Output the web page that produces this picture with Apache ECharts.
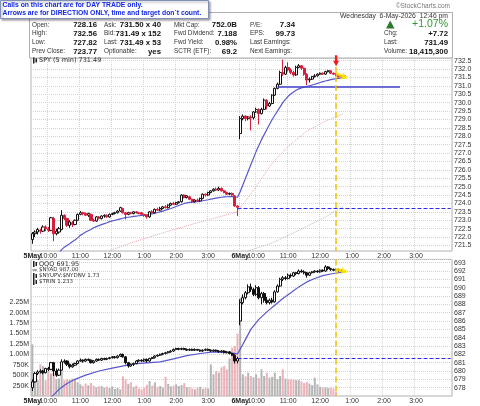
<!DOCTYPE html>
<html>
<head>
<meta charset="utf-8">
<script src="https://cdn.jsdelivr.net/npm/echarts@6/dist/echarts.min.js"></script>
<style>
html, body { margin: 0; padding: 0; background: #fff; }
#chart { width: 480px; height: 406px; }
</style>
</head>
<body>
<div id="chart"></div>
<script>
// x axis: 5 minute slots, two sessions of 78 bars
const slotCount = 158;
const daySlots = [0, 78];
const dayTexts = ['5May', '6May'];
const hourSlots = [6, 18, 30, 42, 54, 66, 84, 96, 108, 120, 132, 144];
const hourTexts = ['10:00', '11:00', '12:00', '1:00', '2:00', '3:00', '10:00', '11:00', '12:00', '1:00', '2:00', '3:00'];

// SPY 5 min candles [open, close, low, high]
const spyDay1 = [
  [721.85,722.2,721.6,722.3],[722.2,722.3,722.0,722.4],[722.3,722.45,722.15,722.55],[722.4,722.35,722.2,722.5],
  [722.35,722.6,722.3,722.7],[722.6,722.5,722.35,722.7],[722.5,722.4,722.3,722.6],[722.4,723.15,722.35,723.2],
  [723.1,722.2,721.75,723.2],[722.2,722.35,722.1,722.5],[722.3,722.5,722.2,722.6],[722.45,723.3,722.4,723.6],
  [723.3,723.1,723.0,723.35],[723.1,722.7,722.6,723.15],[722.7,722.9,722.55,723.0],[722.85,722.75,722.6,722.95],
  [722.75,723.0,722.7,723.05],[723.0,723.35,722.95,723.4],[723.35,723.45,723.3,723.55],[723.45,723.4,723.3,723.5],
  [723.4,723.3,723.25,723.45],[723.3,723.4,723.2,723.45],[723.35,723.0,722.95,723.4],[723.0,722.95,722.9,723.1],
  [722.95,723.2,722.9,723.25],[723.2,723.1,723.05,723.25],[723.1,723.25,723.05,723.3],[723.25,723.3,723.15,723.35],
  [723.3,723.2,723.15,723.35],[723.2,723.35,723.15,723.4],[723.35,723.4,723.3,723.45],[723.4,723.45,723.35,723.5],
  [723.45,723.55,723.4,723.6],[723.55,723.75,723.5,723.8],[723.7,723.45,723.4,723.75],[723.45,723.35,723.05,723.5],
  [723.35,723.45,723.3,723.5],[723.45,723.4,723.35,723.5],[723.4,723.5,723.35,723.55],[723.5,723.45,723.4,723.55],
  [723.45,723.4,723.35,723.5],[723.45,723.35,723.3,723.5],[723.35,723.3,723.2,723.4],[723.3,723.2,723.1,723.35],
  [723.2,723.5,723.15,723.55],[723.5,723.45,723.4,723.6],[723.45,723.65,723.4,723.7],[723.65,723.6,723.55,723.75],
  [723.6,723.7,723.55,723.8],[723.7,723.8,723.65,723.85],[723.8,723.75,723.7,723.9],[723.75,723.9,723.7,723.95],
  [723.9,724.0,723.85,724.05],[724.0,723.95,723.9,724.1],[723.95,724.05,723.9,724.1],[724.05,724.1,724.0,724.15],
  [724.1,724.5,724.05,724.55],[724.5,724.35,724.3,724.55],[724.35,724.45,724.3,724.5],[724.4,724.25,724.2,724.45],
  [724.25,724.1,724.05,724.3],[724.1,724.2,724.05,724.25],[724.2,724.15,724.1,724.3],[724.15,724.3,724.1,724.35],
  [724.3,724.55,724.25,724.6],[724.55,724.5,724.4,724.6],[724.5,724.65,724.45,724.7],[724.65,724.75,724.6,724.8],
  [724.75,724.85,724.7,724.9],[724.85,724.8,724.75,724.95],[724.8,724.9,724.75,725.0],[724.9,724.75,724.7,724.95],
  [724.75,724.65,724.6,724.8],[724.65,724.55,724.5,724.7],[724.55,724.6,724.5,724.65],[724.6,724.5,724.45,724.65],
  [724.45,723.85,723.8,724.5],[723.85,723.77,723.25,723.9]
];
const spyDay2 = [
  [728.16,729.05,727.82,729.2],[729.05,729.2,728.95,729.3],[729.2,729.05,728.9,729.25],[729.05,729.15,728.95,729.2],
  [729.15,729.1,728.35,729.25],[729.1,729.45,729.0,729.5],[729.45,729.6,729.4,729.7],[729.6,729.35,728.7,729.65],
  [729.35,729.6,729.3,729.7],[729.6,730.15,729.55,730.25],[730.15,729.8,729.6,730.2],[729.8,729.95,729.75,730.05],
  [729.95,730.45,729.9,730.5],[730.45,730.85,730.4,730.9],[730.85,731.1,730.8,731.2],[731.1,731.8,731.05,731.9],
  [731.8,731.7,731.6,732.56],[731.7,732.1,731.65,732.2],[732.1,731.95,731.85,732.4],[731.95,731.8,731.7,732.05],
  [731.8,731.65,731.55,731.9],[731.65,732.1,731.6,732.2],[732.1,732.2,732.05,732.3],[732.2,732.05,731.95,732.25],
  [732.05,731.7,731.6,732.1],[731.7,731.35,731.05,731.75],[731.35,731.4,731.2,731.5],[731.4,731.55,731.35,731.6],
  [731.55,731.6,731.5,731.7],[731.6,731.7,731.55,731.75],[731.7,731.75,731.65,731.8],[731.75,731.7,731.65,731.8],
  [731.7,731.85,731.65,731.9],[731.85,731.9,731.8,731.95],[731.9,731.75,731.7,731.95],[731.75,731.7,731.65,731.8],
  [731.7,731.65,731.6,731.75],[731.65,731.55,731.5,731.7],[731.55,731.6,731.45,731.65],[731.6,731.49,731.45,731.65]
];
// SPY moving averages
const spyMaStart = 10;
const spyMa = [
  721.05,721.25,721.4,721.5,721.6,721.72,721.82,721.95,722.1,722.2,
  722.3,722.38,722.45,722.55,722.62,722.68,722.74,722.8,722.85,722.92,
  722.96,723.0,723.04,723.08,723.12,723.16,723.18,723.2,723.23,723.25,
  723.27,723.29,723.31,723.32,723.35,723.38,723.42,723.46,723.5,723.54,
  723.6,723.65,723.7,723.76,723.82,723.88,723.94,724.0,724.03,724.06,
  724.08,724.1,724.11,724.13,724.16,724.19,724.22,724.26,724.29,724.32,
  724.35,724.37,724.39,724.4,724.41,724.41,724.4,724.37,
  724.7,725.1,725.5,725.9,726.3,726.7,727.1,727.45,727.8,728.1,
  728.4,728.7,729.0,729.25,729.5,729.75,730.0,730.2,730.38,730.52,
  730.64,730.74,730.82,730.88,730.93,730.97,731.01,731.05,731.1,731.15,
  731.2,731.25,731.29,731.33,731.37,731.4,731.43,731.45,731.47,731.49
];
const spyMaSlowPts = [[29,721.2],[38,721.7],[50,722.3],[63,722.9],[77,723.5],[84,725.0],[90,726.4],[96,727.4],[103,728.3],[110,728.9],[117,729.35]];
const spyMaLongPts = [[81,721.17],[90,721.65],[100,722.4],[110,723.2],[117,723.85]];
const spyPrevClose = 723.71;
const spySupport = 730.95;
const signalSlot = 114;

// QQQ 5 min candles [open, close, low, high]
const qqqDay1 = [
  [678.0,678.7,677.6,679.0],[678.7,679.7,678.6,679.9],[679.7,679.9,679.5,680.1],[679.9,680.0,679.7,680.2],
  [680.0,679.8,679.6,680.1],[679.8,680.3,679.7,680.4],[680.3,680.2,680.0,680.5],[680.2,681.0,680.1,681.1],
  [681.0,680.0,679.4,681.1],[680.0,679.5,679.3,680.3],[679.5,680.1,679.4,680.3],[680.1,681.1,680.0,681.4],
  [681.1,681.2,680.9,681.4],[681.2,680.8,680.6,681.3],[680.8,680.5,680.3,680.9],[680.5,680.7,680.4,680.9],
  [680.7,680.9,680.6,681.0],[680.9,681.2,680.8,681.3],[681.2,681.3,681.1,681.5],[681.3,681.2,681.0,681.4],
  [681.2,681.4,681.1,681.5],[681.4,681.3,681.2,681.5],[681.3,681.0,680.9,681.4],[681.0,681.2,680.9,681.3],
  [681.2,681.4,681.1,681.5],[681.4,681.3,681.2,681.5],[681.3,681.5,681.2,681.6],[681.5,681.4,681.3,681.6],
  [681.4,681.5,681.3,681.6],[681.5,681.6,681.4,681.7],[681.6,681.7,681.5,681.8],[681.7,681.6,681.5,681.8],
  [681.6,681.8,681.5,681.9],[681.8,682.0,681.7,682.1],[682.0,681.7,681.6,682.1],[681.7,681.0,680.8,681.8],
  [681.0,680.6,680.4,681.1],[680.6,680.8,680.5,680.9],[680.8,680.9,680.6,681.0],[680.9,681.2,680.8,681.3],
  [681.2,681.3,681.1,681.4],[681.3,681.2,681.1,681.4],[681.2,681.4,681.1,681.5],[681.4,681.2,681.0,681.5],
  [681.2,681.5,681.1,681.6],[681.5,681.6,681.4,681.7],[681.6,681.8,681.5,681.9],[681.8,681.9,681.7,682.0],
  [681.9,682.0,681.8,682.1],[682.0,682.1,681.9,682.2],[682.1,682.2,682.0,682.3],[682.2,682.3,682.1,682.4],
  [682.3,682.4,682.2,682.5],[682.4,682.6,682.3,682.7],[682.6,682.7,682.5,682.8],[682.7,682.6,682.5,682.8],
  [682.6,682.7,682.5,682.8],[682.7,682.6,682.5,682.8],[682.6,682.5,682.4,682.7],[682.5,682.6,682.4,682.7],
  [682.6,682.5,682.4,682.7],[682.5,682.6,682.4,682.7],[682.6,682.5,682.4,682.6],[682.5,682.4,682.3,682.6],
  [682.4,682.5,682.3,682.6],[682.5,682.6,682.4,682.7],[682.6,682.5,682.4,682.7],[682.5,682.4,682.3,682.6],
  [682.4,682.5,682.3,682.6],[682.5,682.4,682.3,682.6],[682.4,682.3,682.2,682.5],[682.3,682.4,682.2,682.5],
  [682.4,682.2,682.1,682.5],[682.2,682.3,682.1,682.4],[682.3,682.1,682.0,682.4],[682.1,681.9,681.8,682.2],
  [681.9,681.2,680.9,682.0],[681.2,681.5,680.9,681.7]
];
const qqqDay2 = [
  [686.0,688.2,685.5,688.6],[688.2,688.8,688.0,689.2],[688.8,689.4,688.6,689.6],[689.4,690.1,689.2,690.4],
  [690.1,689.8,689.5,690.5],[689.8,689.2,689.0,690.0],[689.2,690.0,689.0,690.3],[690.0,688.8,688.6,690.2],
  [688.8,689.3,688.0,689.5],[689.3,688.5,688.2,689.5],[688.5,688.2,688.0,688.9],[688.2,688.5,688.0,688.7],
  [688.5,688.3,688.1,688.8],[688.3,689.5,688.2,689.7],[689.5,690.2,689.4,690.4],[690.2,691.0,690.1,691.2],
  [691.0,691.2,690.8,691.4],[691.2,691.1,690.9,691.4],[691.1,691.5,691.0,691.7],[691.5,691.4,691.2,691.7],
  [691.4,691.8,691.3,691.9],[691.8,691.7,691.5,691.9],[691.7,692.0,691.6,692.2],[692.0,691.9,691.8,692.2],
  [691.9,691.8,691.6,692.1],[691.8,691.5,691.2,691.9],[691.5,691.8,691.4,691.9],[691.8,691.9,691.7,692.0],
  [691.9,692.0,691.8,692.1],[692.0,691.9,691.8,692.1],[691.9,692.1,691.8,692.2],[692.1,692.0,691.9,692.2],
  [692.0,692.5,691.9,692.7],[692.5,692.3,692.1,692.6],[692.3,692.2,692.0,692.4],[692.2,692.1,692.0,692.3],
  [692.1,692.2,692.0,692.3],[692.2,692.1,691.9,692.3],[692.1,692.0,691.9,692.2],[692.0,691.95,691.85,692.1]
];
const qqqMaPts = [[7,676.8],[10,677.8],[13,678.5],[16,679.0],[20,679.5],[25,680.0],[30,680.35],[38,680.85],[48,681.1],[53,681.45],[58,681.85],[63,682.1],[68,682.3],[73,682.25],[77,682.05],[79,683.2],[82,685.0],[85,686.2],[88,687.1],[91,687.9],[94,688.7],[97,689.4],[100,690.1],[103,690.7],[106,691.1],[109,691.45],[112,691.65],[115,691.8],[117,691.9]];
const qqqPrevClose = 681.5;

// SPY volume, thousands of shares
const volDay1 = [
  1240,450,380,760,720,380,600,540,560,400,420,600,380,400,390,420,390,330,280,240,
  300,260,310,250,210,230,240,200,220,190,230,170,190,160,470,400,290,330,220,250,
  180,160,200,270,360,250,330,220,240,200,460,290,230,250,280,240,260,310,210,220,
  180,160,200,220,170,190,180,760,520,600,560,690,720,640,900,1160,1200,1500
];
const volDay2 = [
  2350,520,470,560,480,450,520,430,640,480,560,440,460,560,410,480,640,420,400,400,
  390,380,380,350,310,340,300,260,440,280,220,200,210,190,200,180,100,null,null,null
];

// header
const infoRows = [
  ['Open:', '728.16', 'Ask:', '731.50 x 40', 'Mkt Cap:', '752.0B', 'P/E:', '7.34'],
  ['High:', '732.56', 'Bid:', '731.49 x 152', 'Fwd Dividend:', '7.188', 'EPS:', '99.73'],
  ['Low:', '727.82', 'Last:', '731.49 x 53', 'Fwd Yield:', '0.98%', 'Last Earnings:', ''],
  ['Prev Close:', '723.77', 'Optionable:', 'yes', 'SCTR (ETF):', '69.2', 'Next Earnings:', '']
];
const quoteRows = [['Chg:', '+7.72'], ['Last:', '731.49'], ['Volume:', '18,415,300']];

const FONT = '"Liberation Sans", Arial, sans-serif';
const red = '#d81e3c';
const grid = '#d2d2d2';

const spyData = spyDay1.concat(spyDay2);
const qqqData = qqqDay1.concat(qqqDay2);
const vols = volDay1.concat(volDay2);
const cats = Array.from({ length: slotCount }, (_, i) => String(i));
const spyMaData = cats.map((c, i) => (i >= spyMaStart && i - spyMaStart < spyMa.length) ? spyMa[i - spyMaStart] : null);
const volData = vols.map((v, i) => {
  if (v == null) return null;
  const prev = i > 0 ? spyData[i - 1][1] : spyData[0][0];
  const down = spyData[i][1] < prev;
  return { value: v * 1000, itemStyle: { color: down ? '#eab3b9' : '#b5b5b5' } };
});

function txt(x, y, text, font, fill, align) {
  return { type: 'text', x: x, y: y, z: 20, silent: true,
    style: { text: text, font: font, fill: fill || '#222', align: align || 'left', verticalAlign: 'middle' } };
}

const graphics = [];
// quote table
graphics.push({ type: 'rect', z: 5, silent: true, shape: { x: 29.5, y: 12.5, width: 423, height: 45.5 },
  style: { fill: '#fff', stroke: '#b0b0b0', lineWidth: 1 } });
const rowY = [25, 33.7, 42.7, 51.7];
const labX = [32, 104, 174, 250];
const valX = [97, 161, 237, 295];
const labFont = '6.4px ' + FONT;
const valFont = 'bold 7.8px ' + FONT;
infoRows.forEach((r, k) => {
  for (let c = 0; c < 4; c++) {
    graphics.push(txt(labX[c], rowY[k], r[c * 2], labFont, '#333'));
    if (r[c * 2 + 1]) graphics.push(txt(valX[c], rowY[k], r[c * 2 + 1], valFont, '#111', 'right'));
  }
});
quoteRows.forEach((r, k) => {
  graphics.push(txt(384, rowY[k + 1], r[0], labFont, '#333'));
  graphics.push(txt(448, rowY[k + 1], r[1], valFont, '#111', 'right'));
});
graphics.push(txt(448, 15.7, 'Wednesday  6-May-2026  12:46 pm', '6.8px ' + FONT, '#333', 'right'));
graphics.push(txt(448, 24.5, '+1.07%', '10.5px ' + FONT, '#2f9a2f', 'right'));
graphics.push({ type: 'polygon', z: 20, silent: true, shape: { points: [[386, 28.5], [394.5, 28.5], [390.2, 20.5]] },
  style: { fill: '#2a7a2a' } });
graphics.push(txt(450, 6.5, '\u00a9StockCharts.com', '6.5px ' + FONT, '#777', 'right'));
// notice box
graphics.push({ type: 'rect', z: 30, silent: true, shape: { x: 0.5, y: 0.5, width: 208, height: 18 },
  style: { fill: '#fff', stroke: '#8090b8', lineWidth: 1, shadowBlur: 2, shadowOffsetX: 1.5, shadowOffsetY: 1.5, shadowColor: 'rgba(0,0,0,0.35)' } });
graphics.push(Object.assign(txt(2.5, 5.3, 'Calls on this chart are for DAY TRADE only.', 'bold 6.8px ' + FONT, '#1428e6'), { z: 31 }));
graphics.push(Object.assign(txt(2.5, 13.6, 'Arrows are for DIRECTION ONLY, time and target don`t count.', 'bold 6.8px ' + FONT, '#1428e6'), { z: 31 }));
// panel legends
function candleIcon(x, y) {
  graphics.push({ type: 'rect', z: 21, silent: true, shape: { x: x, y: y - 3, width: 1.5, height: 6 }, style: { fill: '#222' } });
  graphics.push({ type: 'rect', z: 21, silent: true, shape: { x: x + 2.5, y: y - 2, width: 1.5, height: 4 }, style: { fill: '#222' } });
}
candleIcon(33, 60.5);
graphics.push(txt(39, 60.5, 'SPY (5 min) 731.49', '6.5px "DejaVu Sans", sans-serif', '#333'));
candleIcon(33, 264);
graphics.push(txt(39, 264, 'QQQ 691.95', '6.5px "DejaVu Sans", sans-serif', '#333'));
graphics.push({ type: 'line', z: 21, silent: true, shape: { x1: 32.5, y1: 270, x2: 37, y2: 270 }, style: { stroke: '#555', lineWidth: 1 } });
graphics.push(txt(39, 270, '$NYAD 987.00', '5.5px "DejaVu Sans", sans-serif', '#333'));
candleIcon(33, 276);
graphics.push(txt(39, 276, '$NYUPV:$NYDNV 1.73', '5.5px "DejaVu Sans", sans-serif', '#333'));
candleIcon(33, 282);
graphics.push(txt(39, 282, '$TRIN 1.233', '5.5px "DejaVu Sans", sans-serif', '#333'));

// hour axis (with vertical grid) and a day axis on the same spot
function xAxisFor(gi, slots, texts, bold, withGrid) {
  return {
    type: 'category', gridIndex: gi, data: cats, boundaryGap: true, position: 'bottom', offset: 0,
    axisLine: { show: false }, axisTick: { show: false },
    axisLabel: {
      interval: (i) => slots.indexOf(i) >= 0, margin: 1.5, fontSize: 7, fontFamily: FONT,
      fontWeight: bold ? 'bold' : 'normal', color: bold ? '#222' : '#333',
      formatter: (v, i) => { const k = slots.indexOf(i); return k < 0 ? '' : texts[k]; }
    },
    splitLine: { show: withGrid, interval: (i) => hourSlots.indexOf(i) >= 0 || i === 78, lineStyle: { color: grid, type: 'dotted' } }
  };
}

const yellowV = { color: '#f2c200', type: 'dashed', width: 1.5 };
const option = {
  animation: false,
  backgroundColor: '#fff',
  graphic: graphics,
  grid: [
    { left: 31, right: 28, top: 58, height: 193, show: true, borderColor: '#b4b4b4', borderWidth: 1, backgroundColor: '#fff' },
    { left: 31, right: 28, top: 259.4, height: 136.6, show: true, borderColor: '#b4b4b4', borderWidth: 1, backgroundColor: '#fff' }
  ],
  xAxis: [
    xAxisFor(0, hourSlots, hourTexts, false, true),
    xAxisFor(1, hourSlots, hourTexts, false, true),
    xAxisFor(0, daySlots, dayTexts, true, false),
    xAxisFor(1, daySlots, dayTexts, true, false)
  ],
  yAxis: [
    { type: 'value', gridIndex: 0, position: 'right', min: 721.17, max: 732.66, splitNumber: 23,
      axisLine: { show: false }, axisTick: { show: false },
      axisLabel: { fontSize: 7, color: '#333', margin: 2, fontFamily: FONT,
        formatter: (v) => Math.abs(v * 2 - Math.round(v * 2)) < 1e-6 ? v.toFixed(1) : '' },
      splitLine: { lineStyle: { color: grid, type: 'dotted' } } },
    { type: 'value', gridIndex: 1, position: 'left', min: 0, max: 3280000, interval: 250000,
      axisLine: { show: false }, axisTick: { show: false },
      axisLabel: { fontSize: 7, color: '#333', margin: 2, fontFamily: FONT,
        formatter: (v) => (v <= 0 || v > 2250000) ? '' : (v >= 1000000 ? (v / 1000000).toFixed(2) + 'M' : (v / 1000) + 'K') },
      splitLine: { show: false } },
    { type: 'value', gridIndex: 1, position: 'right', min: 677, max: 693.4, interval: 1,
      axisLine: { show: false }, axisTick: { show: false },
      axisLabel: { fontSize: 7, color: '#333', margin: 2, fontFamily: FONT,
        formatter: (v) => (v >= 678 && v <= 693 && Math.abs(v - Math.round(v)) < 1e-6) ? String(Math.round(v)) : '' },
      splitLine: { lineStyle: { color: grid, type: 'dotted' } } }
  ],
  series: [
    { type: 'line', xAxisIndex: 0, yAxisIndex: 0, data: spyMaLongPts, showSymbol: false, silent: true, z: 2,
      lineStyle: { color: '#b8b8b8', width: 1, type: 'dotted' } },
    { type: 'line', xAxisIndex: 0, yAxisIndex: 0, data: spyMaSlowPts, showSymbol: false, silent: true, z: 2,
      lineStyle: { color: '#eaa0aa', width: 1, type: 'dotted' } },
    { type: 'line', xAxisIndex: 0, yAxisIndex: 0, data: spyMaData, showSymbol: false, silent: true, z: 3,
      lineStyle: { color: '#5858cc', width: 1.2 } },
    { type: 'candlestick', name: 'SPY', xAxisIndex: 0, yAxisIndex: 0, data: spyData, barWidth: 2.6, z: 4,
      itemStyle: { color: '#fff', color0: red, borderColor: '#111', borderColor0: red, borderWidth: 1 },
      markLine: { silent: true, symbol: ['none', 'none'], label: { show: false },
        data: [
          [{ coord: [77, spyPrevClose], lineStyle: { color: '#2a2af0', type: 'dashed', width: 1 } }, { coord: [157, spyPrevClose] }],
          [{ coord: [92, spySupport], lineStyle: { color: '#4040c8', type: 'solid', width: 1.5 } }, { coord: [138, spySupport] }],
          [{ coord: [signalSlot, 732.66], lineStyle: yellowV }, { coord: [signalSlot, 721.17] }]
        ] },
      markPoint: { silent: true, label: { show: false },
        data: [{ coord: [signalSlot, 732.5], symbol: 'path://M3,0L7,0L7,6L10,6L5,12L0,6L3,6Z', symbolSize: [6, 11], itemStyle: { color: '#ee1c1c' } }] } },
    { type: 'line', xAxisIndex: 0, yAxisIndex: 0, data: [], silent: true, z: 6,
      markLine: { silent: true, symbol: ['none', 'arrow'], symbolSize: 6, label: { show: false },
        data: [[{ coord: [signalSlot, 731.74], lineStyle: { color: '#ffe600', width: 3, opacity: 0.85 } }, { coord: [118, 731.46] }]] } },

    { type: 'bar', xAxisIndex: 1, yAxisIndex: 1, data: volData, barWidth: 2, silent: true, z: 1 },
    { type: 'line', xAxisIndex: 1, yAxisIndex: 2, data: qqqMaPts, showSymbol: false, silent: true, z: 3,
      lineStyle: { color: '#5858cc', width: 1.2 } },
    { type: 'candlestick', name: 'QQQ', xAxisIndex: 1, yAxisIndex: 2, data: qqqData, barWidth: 2.6, z: 4,
      itemStyle: { color: '#fff', color0: '#111', borderColor: '#111', borderColor0: '#111', borderWidth: 1 },
      markLine: { silent: true, symbol: ['none', 'none'], label: { show: false },
        data: [
          [{ coord: [77, qqqPrevClose], lineStyle: { color: '#2a2af0', type: 'dashed', width: 1 } }, { coord: [157, qqqPrevClose] }],
          [{ coord: [signalSlot, 693.4], lineStyle: yellowV }, { coord: [signalSlot, 677] }]
        ] } },
    { type: 'line', xAxisIndex: 1, yAxisIndex: 2, data: [], silent: true, z: 6,
      markLine: { silent: true, symbol: ['none', 'arrow'], symbolSize: 6, label: { show: false },
        data: [[{ coord: [signalSlot, 692.2], lineStyle: { color: '#ffe600', width: 3, opacity: 0.85 } }, { coord: [118, 691.9] }]] } }
  ]
};

const chart = echarts.init(document.getElementById('chart'));
chart.setOption(option);
</script>
</body>
</html>
